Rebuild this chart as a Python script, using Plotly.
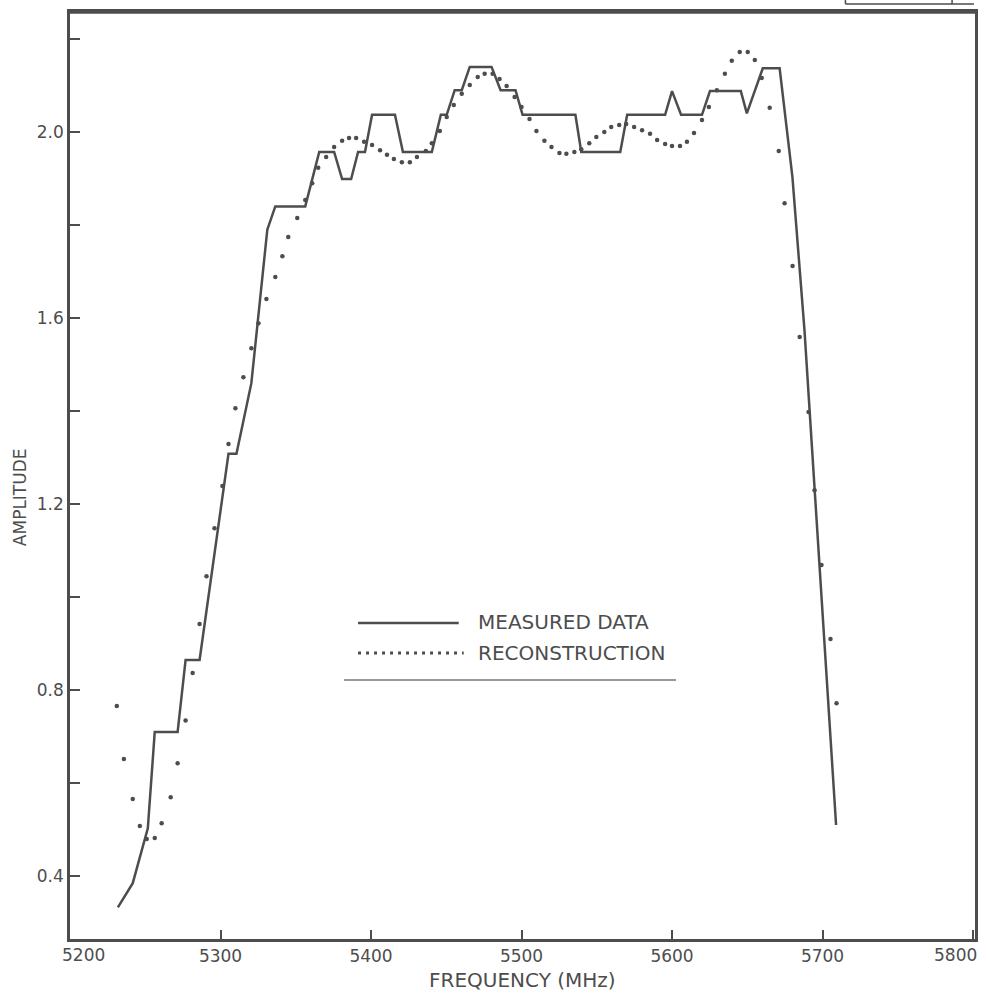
import plotly.graph_objects as go

# Measured data (stepped solid line)
meas_freq = [5231.8, 5241.7, 5251.7, 5256.3, 5271.5, 5276.8, 5286.1, 5305.3, 5310.6, 5320.5,
             5331.1, 5336.4, 5356.3, 5365.6, 5375.5, 5380.8, 5386.8, 5391.4, 5396.0, 5400.7,
             5415.9, 5421.2, 5440.4, 5446.4, 5450.3, 5455.6, 5460.3, 5465.6, 5480.1, 5486.1,
             5496.0, 5500.7, 5535.8, 5539.7, 5565.6, 5570.2, 5595.4, 5600.0, 5606.0, 5619.9,
             5625.2, 5645.7, 5649.7, 5660.3, 5671.5, 5680.0, 5688.0, 5709.0]
meas_amp = [0.333, 0.385, 0.503, 0.710, 0.710, 0.865, 0.865, 1.308, 1.308, 1.460,
            1.790, 1.840, 1.840, 1.957, 1.957, 1.899, 1.899, 1.957, 1.957, 2.037,
            2.037, 1.957, 1.957, 2.037, 2.037, 2.090, 2.090, 2.140, 2.140, 2.090,
            2.090, 2.037, 2.037, 1.957, 1.957, 2.037, 2.037, 2.088, 2.037, 2.037,
            2.088, 2.088, 2.040, 2.137, 2.137, 1.903, 1.574, 0.510]

# Reconstruction (dotted)
rec_freq = [5231.1, 5235.8, 5241.7, 5246.4, 5251.0, 5256.3, 5260.9, 5266.9, 5271.5, 5276.8,
            5281.5, 5286.1, 5290.7, 5296.0, 5301.3, 5305.3, 5309.9, 5315.2, 5320.5, 5325.2,
            5330.5, 5336.4, 5341.1, 5345.0, 5351.0, 5356.3, 5360.9, 5364.9, 5370.2, 5375.5,
            5380.8, 5385.4, 5390.1, 5395.4, 5400.7, 5406.0, 5410.6, 5415.2, 5420.5, 5425.8,
            5430.5, 5436.4, 5440.4, 5445.7, 5450.3, 5455.0, 5460.3, 5465.6, 5470.9, 5475.5,
            5480.8, 5485.4, 5490.1, 5495.4, 5500.0, 5505.3, 5509.9, 5515.2, 5519.9, 5525.2,
            5529.8, 5535.1, 5539.7, 5545.0, 5549.7, 5555.0, 5559.6, 5564.9, 5569.5, 5574.8,
            5580.1, 5585.4, 5590.1, 5595.4, 5600.0, 5605.3, 5609.9, 5614.6, 5619.9, 5624.5,
            5629.8, 5635.1, 5639.7, 5645.0, 5650.3, 5655.0, 5659.6, 5664.9, 5670.9, 5674.8,
            5680.1, 5684.8, 5690.7, 5694.7, 5699.3, 5705.3, 5709.3]
rec_amp = [0.766, 0.652, 0.566, 0.508, 0.480, 0.482, 0.514, 0.570, 0.643, 0.735,
           0.837, 0.942, 1.045, 1.148, 1.239, 1.329, 1.406, 1.473, 1.535, 1.589,
           1.641, 1.688, 1.733, 1.774, 1.815, 1.854, 1.890, 1.923, 1.946, 1.968,
           1.981, 1.987, 1.987, 1.979, 1.972, 1.961, 1.951, 1.942, 1.935, 1.935,
           1.946, 1.959, 1.976, 2.002, 2.032, 2.058, 2.082, 2.101, 2.118, 2.125,
           2.125, 2.114, 2.099, 2.075, 2.054, 2.028, 2.002, 1.981, 1.968, 1.955,
           1.953, 1.957, 1.963, 1.976, 1.989, 2.000, 2.011, 2.015, 2.017, 2.011,
           2.004, 1.996, 1.983, 1.974, 1.970, 1.970, 1.979, 1.998, 2.026, 2.054,
           2.090, 2.125, 2.153, 2.172, 2.172, 2.155, 2.116, 2.052, 1.959, 1.847,
           1.712, 1.559, 1.398, 1.230, 1.069, 0.910, 0.772]

x_ticks = [5200, 5300, 5400, 5500, 5600, 5700, 5800]
y_ticks = [0.4, 0.8, 1.2, 1.6, 2.0]
legend_labels = ["MEASURED DATA", "RECONSTRUCTION"]

INK = "#4d4d4d"
FONT = "DejaVu Sans"

W, H = 986, 996
ML, MR, MT, MB = 70, 8, 12, 57
PW, PH = W - ML - MR, H - MT - MB

def px(x):
    return (x - ML) / PW

def py(y):
    return (H - MB - y) / PH

fig = go.Figure()
fig.add_trace(go.Scatter(x=meas_freq, y=meas_amp, mode="lines",
                         line=dict(color=INK, width=2.5), showlegend=False))
fig.add_trace(go.Scatter(x=rec_freq, y=rec_amp, mode="markers",
                         marker=dict(color=INK, size=4.5), showlegend=False))

axis_common = dict(showline=True, mirror=True, linecolor=INK, linewidth=2.5,
                   ticks="inside", tickcolor=INK, tickwidth=2, showgrid=False,
                   zeroline=False, tickfont=dict(family=FONT, size=17, color=INK))

# end labels (5200, 5800) are drawn as annotations, shifted inward like the original
x_ticktext = ["" if v in (x_ticks[0], x_ticks[-1]) else str(v) for v in x_ticks]

fig.update_xaxes(range=[5200, 5801.3], tickmode="array", tickvals=x_ticks,
                 ticktext=x_ticktext, ticklen=9, **axis_common)
fig.update_yaxes(range=[0.265, 2.258], tickmode="array", tickvals=y_ticks,
                 ticktext=[f"{v:.1f}" for v in y_ticks], ticklen=10,
                 minor=dict(tickmode="linear", tick0=0, dtick=0.2, ticks="inside",
                            ticklen=10, tickcolor=INK, tickwidth=2),
                 **axis_common)

shapes = []
# legend samples
shapes.append(dict(type="line", xref="paper", yref="paper", x0=px(359), x1=px(460),
                   y0=py(623), y1=py(623), line=dict(color=INK, width=2.5)))
shapes.append(dict(type="line", xref="paper", yref="paper", x0=px(359), x1=px(465),
                   y0=py(653), y1=py(653), line=dict(color=INK, width=3, dash="3px,5px")))
shapes.append(dict(type="line", xref="paper", yref="paper", x0=px(345), x1=px(678),
                   y0=py(680), y1=py(680), line=dict(color="#777777", width=1.5)))
# partial box fragment at top right
shapes.append(dict(type="line", xref="paper", yref="paper", x0=px(848), x1=px(977),
                   y0=py(4), y1=py(4), line=dict(color=INK, width=1.5)))
shapes.append(dict(type="line", xref="paper", yref="paper", x0=px(848), x1=px(848),
                   y0=py(4), y1=py(-2), line=dict(color=INK, width=1.5)))
shapes.append(dict(type="line", xref="paper", yref="paper", x0=px(955), x1=px(955),
                   y0=py(4), y1=py(-2), line=dict(color=INK, width=1.5)))
# thicker top border
shapes.append(dict(type="line", xref="paper", yref="paper", x0=0, x1=1,
                   y0=1, y1=1, line=dict(color=INK, width=3.5)))

annotations = [
    dict(xref="x", yref="paper", x=x_ticks[0], y=py(955), text=str(x_ticks[0]),
         showarrow=False, xanchor="left", yanchor="middle", xshift=-10,
         font=dict(family=FONT, size=17, color=INK)),
    dict(xref="x", yref="paper", x=x_ticks[-1], y=py(955), text=str(x_ticks[-1]),
         showarrow=False, xanchor="right", yanchor="middle", xshift=6,
         font=dict(family=FONT, size=17, color=INK)),
    dict(xref="paper", yref="paper", x=px(477), y=py(622), text=legend_labels[0],
         showarrow=False, xanchor="left", yanchor="middle",
         font=dict(family=FONT, size=20, color=INK)),
    dict(xref="paper", yref="paper", x=px(477), y=py(653), text=legend_labels[1],
         showarrow=False, xanchor="left", yanchor="middle",
         font=dict(family=FONT, size=20, color=INK)),
    dict(xref="paper", yref="paper", x=0.5, y=py(980), text="FREQUENCY (MHz)",
         showarrow=False, xanchor="center", yanchor="middle",
         font=dict(family=FONT, size=20, color=INK)),
    dict(xref="paper", yref="paper", x=px(20), y=py(497), text="AMPLITUDE",
         showarrow=False, xanchor="center", yanchor="middle", textangle=-90,
         font=dict(family=FONT, size=17, color=INK)),
]

fig.update_layout(width=W, height=H, margin=dict(l=ML, r=MR, t=MT, b=MB),
                  paper_bgcolor="white", plot_bgcolor="white",
                  shapes=shapes, annotations=annotations, showlegend=False)

fig.write_html("out.html")
